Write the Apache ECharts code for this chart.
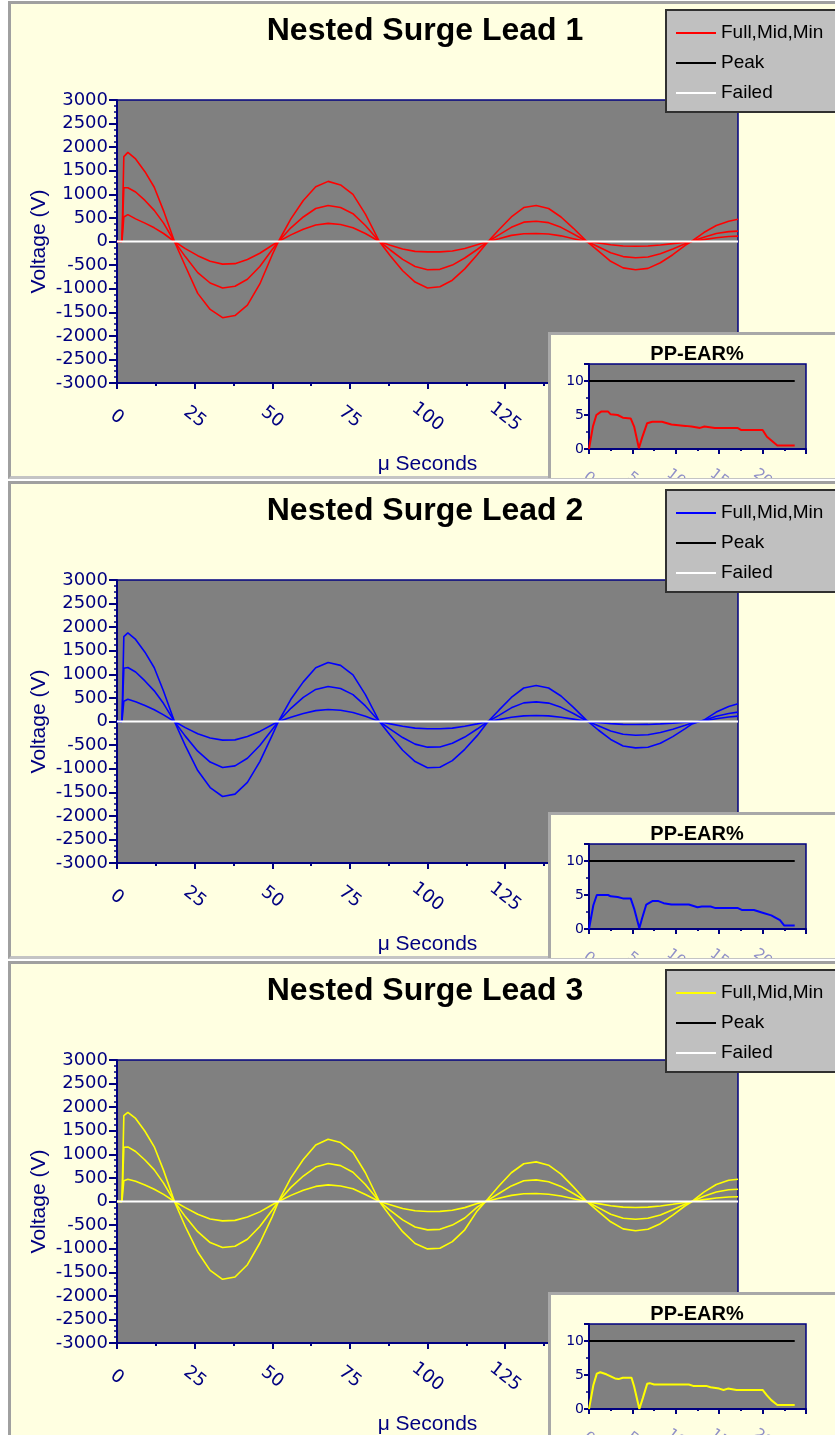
<!DOCTYPE html>
<html><head><meta charset="utf-8">
<script src="https://cdn.jsdelivr.net/npm/echarts@6/dist/echarts.min.js"></script>
<style>
html,body{margin:0;padding:0;background:#ffffff;width:835px;height:1435px;overflow:hidden;position:relative}
.frame{position:absolute;left:8px;width:840px;height:478px;box-sizing:border-box;background:#ffffe1;border-top:3px solid #a0a0a0;border-left:3px solid #a0a0a0;border-bottom:3px solid #c4c4c4}
.chart{position:absolute;left:0;width:835px;height:478px}
</style></head><body>
<div class="frame" style="top:1px"></div>
<div class="frame" style="top:481px"></div>
<div class="frame" style="top:961px"></div>
<div class="chart" id="c0" style="top:0px"></div>
<div class="chart" id="c1" style="top:480px"></div>
<div class="chart" id="c2" style="top:960px"></div>
<script>
// ---- data ----
const TIME_US = [0, 1.6, 2.2, 3.5, 6, 9, 12, 15, 18.5,
  22, 26, 30, 34, 38, 42, 46, 50, 52,
  56, 60, 64, 68, 72, 76, 80, 84.5,
  88, 92, 96, 100, 104, 108, 112, 116, 119.5,
  123, 127, 131, 135, 139, 143, 147, 151,
  155, 159, 163, 167, 171, 175, 179, 183, 185,
  189, 193, 197, 200];

const FULL_1 = [0, 0, 1800, 1890, 1750, 1480, 1150, 650, 0,
  -520, -1100, -1440, -1615, -1570, -1350, -900, -280, 0,
  480, 870, 1160, 1275, 1200, 1000, 580, 0,
  -300, -620, -860, -985, -960, -820, -580, -280, 0,
  250, 520, 720, 765, 700, 520, 280, 20,
  -200, -420, -560, -600, -570, -450, -280, -80, 0,
  190, 340, 430, 470];
const MID_1 = [0, 0, 1140, 1140, 1050, 870, 660, 390, 0,
  -320, -660, -880, -985, -950, -800, -530, -170, 0,
  290, 520, 700, 765, 720, 590, 340, 0,
  -180, -380, -530, -600, -590, -500, -350, -170, 0,
  140, 300, 410, 430, 400, 300, 160, 10,
  -110, -240, -320, -345, -330, -260, -160, -50, 0,
  90, 170, 210, 220];
const MIN_1 = [0, 0, 520, 570, 480, 390, 290, 170, 0,
  -150, -300, -420, -480, -470, -380, -250, -80, 0,
  140, 260, 350, 385, 360, 290, 170, 0,
  -80, -160, -210, -220, -220, -200, -150, -70, 0,
  60, 130, 165, 170, 160, 120, 60, 0,
  -30, -70, -95, -100, -95, -75, -45, -15, 0,
  40, 80, 105, 113];

const FULL_2 = [0, 0, 1800, 1880, 1740, 1470, 1140, 640, 0,
  -510, -1040, -1400, -1590, -1540, -1290, -850, -290, 0,
  470, 840, 1140, 1250, 1190, 990, 570, 0,
  -290, -610, -850, -980, -970, -830, -590, -300, 0,
  240, 510, 710, 765, 710, 540, 300, 40,
  -180, -380, -520, -560, -545, -460, -320, -150, -60,
  30, 200, 320, 375];
const MID_2 = [0, 0, 1130, 1145, 1050, 860, 650, 380, 0,
  -310, -630, -860, -975, -940, -780, -510, -170, 0,
  280, 510, 680, 742, 700, 570, 330, 0,
  -160, -340, -480, -544, -540, -460, -330, -160, 0,
  130, 290, 395, 417, 390, 300, 170, 20,
  -90, -200, -270, -290, -280, -235, -165, -80, -35,
  20, 110, 170, 198];
const MIN_2 = [0, 0, 430, 470, 420, 340, 250, 140, 0,
  -130, -260, -350, -395, -390, -320, -210, -70, 0,
  90, 170, 230, 254, 240, 190, 110, 0,
  -50, -100, -140, -155, -155, -140, -100, -50, 0,
  40, 90, 120, 127, 120, 90, 50, 5,
  -20, -45, -60, -64, -62, -50, -35, -15, -5,
  10, 60, 95, 113];

const FULL_3 = [0, 0, 1820, 1890, 1760, 1490, 1160, 660, 0,
  -530, -1070, -1460, -1650, -1600, -1340, -880, -320, 0,
  500, 890, 1200, 1320, 1250, 1040, 610, 0,
  -310, -640, -890, -1005, -990, -850, -600, -200, 60,
  330, 610, 800, 840, 770, 580, 310, 20,
  -210, -430, -580, -620, -590, -470, -290, -90, -10,
  200, 360, 450, 473];
const MID_3 = [0, 0, 1150, 1157, 1060, 880, 670, 390, 0,
  -320, -640, -870, -975, -950, -800, -530, -180, 0,
  300, 540, 730, 806, 760, 620, 360, 0,
  -190, -390, -540, -602, -590, -500, -350, -120, 30,
  170, 330, 440, 459, 420, 320, 170, 10,
  -130, -270, -355, -375, -355, -285, -175, -55, -5,
  110, 200, 250, 261];
const MIN_3 = [0, 0, 440, 473, 430, 350, 260, 150, 0,
  -130, -270, -370, -411, -400, -330, -220, -70, 0,
  130, 240, 320, 353, 330, 270, 150, 0,
  -70, -150, -195, -212, -210, -185, -130, -40, 10,
  70, 130, 165, 169, 155, 115, 60, 0,
  -45, -90, -120, -127, -120, -95, -60, -20, 0,
  40, 75, 95, 100];

// PP-EAR% inset traces: [x, percent]
const EAR_1 = [[0,0],[0.45,3.3],[0.85,5.0],[1.4,5.5],[2.2,5.5],[2.5,5.1],[3.3,5.0],[3.9,4.6],[4.8,4.5],[5.2,3.3],
  [5.75,0.1],[6.1,1.6],[6.7,3.8],[7.3,4.0],[8.4,4.0],[9.5,3.6],[11.1,3.4],[11.8,3.3],[12.8,3.1],[13.3,3.3],
  [14.5,3.1],[17.1,3.1],[17.5,2.8],[20,2.8],[20.5,1.8],[21.7,0.5],[23.7,0.5]];
const EAR_2 = [[0,0],[0.5,3.5],[0.9,5.0],[2.2,5.0],[2.5,4.8],[3.3,4.7],[3.9,4.5],[4.8,4.5],[5.2,3.0],[5.8,0.1],
  [6.1,1.5],[6.6,3.6],[7.3,4.1],[8.0,4.1],[8.6,3.8],[9.5,3.6],[11.5,3.6],[12.5,3.2],[13.0,3.3],[14.0,3.3],
  [14.5,3.1],[17.1,3.1],[17.6,2.8],[19.0,2.8],[20.0,2.4],[21.0,2.0],[22.0,1.3],[22.5,0.5],[23.7,0.5]];
const EAR_3 = [[0,0],[0.5,3.5],[0.9,5.2],[1.3,5.4],[2.0,5.1],[3.0,4.5],[3.4,4.4],[3.9,4.6],[4.9,4.6],[5.2,3.3],
  [5.8,0.0],[6.2,1.6],[6.7,3.7],[7.0,3.8],[7.5,3.6],[11.5,3.6],[12.0,3.4],[13.5,3.4],[14.0,3.2],[15.0,3.0],
  [15.5,2.8],[16.0,3.0],[17.0,2.8],[20.0,2.8],[20.5,2.0],[21.0,1.3],[21.7,0.6],[23.7,0.6]];
const PEAK_LINE = [[0,10],[23.7,10]];
const FAILED_LINE = [[0,0],[200,0]];

const TITLES = ['Nested Surge Lead 1', 'Nested Surge Lead 2', 'Nested Surge Lead 3'];
const LEGEND_NAMES = ['Full,Mid,Min', 'Peak', 'Failed'];
const COLORS = ['#ff0000', '#0000ff', '#ffff00'];
const SURGES = [[FULL_1, MID_1, MIN_1], [FULL_2, MID_2, MIN_2], [FULL_3, MID_3, MIN_3]];
const EARS = [EAR_1, EAR_2, EAR_3];
const EAR_X_TICKS = [0, 5, 10, 15, 20];
const EAR_Y_TICKS = [0, 5, 10];

// ---- styling ----
const NAVY = '#000080';
const CREAM = '#ffffe1';
const PLOT = '#808080';

function buildOption(k) {
  const color = COLORS[k];
  const pts = arr => TIME_US.map((t, i) => [t, arr[i]]);
  const surgeSeries = SURGES[k].map(arr => ({
    name: LEGEND_NAMES[0], type: 'line', xAxisIndex: 0, yAxisIndex: 0,
    data: pts(arr), symbol: 'none', showSymbol: false, smooth: false,
    lineStyle: {color: color, width: 1.6}, itemStyle: {color: color}, animation: false
  }));
  return {
    animation: false,
    title: [
      {text: TITLES[k], left: 420, top: 10, textAlign: 'center',
       textStyle: {fontFamily: 'Liberation Sans', fontWeight: 'bold', fontSize: 32, color: '#000'}},
      {text: 'PP-EAR%', left: 692, top: 339, textAlign: 'center', zlevel: 1, z: 6,
       textStyle: {fontFamily: 'Liberation Sans', fontWeight: 'bold', fontSize: 20, color: '#000'}}
    ],
    legend: {
      data: LEGEND_NAMES, orient: 'vertical', left: 666, top: 10,
      padding: [13, 30, 9, 10], itemGap: 10, itemWidth: 40, itemHeight: 2, icon: 'rect',
      backgroundColor: '#c0c0c0', borderColor: '#303030', borderWidth: 2, borderRadius: 0,
      selectedMode: false,
      textStyle: {fontFamily: 'Liberation Sans', fontSize: 19, color: '#000', lineHeight: 20}
    },
    graphic: {elements: [{
      type: 'rect', zlevel: 1, z: -10, silent: true,
      shape: {x: 549.5, y: 333.5, width: 320, height: 200},
      style: {fill: CREAM, stroke: '#a8a8a8', lineWidth: 3}
    }]},
    grid: [
      {left: 117, top: 100, width: 621, height: 283, show: true, backgroundColor: PLOT,
       borderColor: NAVY, borderWidth: 1.5, containLabel: false, outerBoundsMode: 'none'},
      {left: 589, top: 364, width: 217, height: 85, show: true, backgroundColor: PLOT,
       borderColor: NAVY, borderWidth: 1.5, containLabel: false, outerBoundsMode: 'none', zlevel: 1, z: 0}
    ],
    xAxis: [
      {gridIndex: 0, type: 'value', min: 0, max: 200, interval: 25,
       name: 'μ Seconds', nameLocation: 'middle', nameGap: 71, nameMoveOverlap: false,
       nameTextStyle: {fontFamily: 'Liberation Sans', fontSize: 21, color: NAVY},
       axisLine: {show: true, onZero: false, lineStyle: {color: NAVY, width: 2}},
       axisTick: {show: true, length: 6, lineStyle: {color: NAVY, width: 2}},
       minorTick: {show: true, splitNumber: 2, length: 3, lineStyle: {color: NAVY, width: 2}},
       splitLine: {show: false},
       axisLabel: {rotate: -38, align: 'center', verticalAlign: 'middle', margin: 34,
                   fontFamily: 'DejaVu Sans', fontSize: 18, color: NAVY, hideOverlap: false,
                   formatter: v => String(v)}},
      {gridIndex: 1, type: 'value', min: 0, max: 25, interval: 5, zlevel: 1,
       axisLine: {show: true, onZero: false, lineStyle: {color: NAVY, width: 2}},
       axisTick: {show: true, length: 5, lineStyle: {color: NAVY, width: 2}},
       minorTick: {show: true, splitNumber: 2, length: 2, lineStyle: {color: NAVY, width: 2}},
       splitLine: {show: false},
       axisLabel: {rotate: -38, align: 'center', verticalAlign: 'middle', margin: 29,
                   fontFamily: 'DejaVu Sans', fontSize: 15, color: '#9090c8',
                   formatter: v => (EAR_X_TICKS.indexOf(v) >= 0 ? String(v) : '')}}
    ],
    yAxis: [
      {gridIndex: 0, type: 'value', min: -3000, max: 3000, interval: 500,
       name: 'Voltage (V)', nameLocation: 'middle', nameGap: 67, nameRotate: 90, nameMoveOverlap: false,
       nameTextStyle: {fontFamily: 'Liberation Sans', fontSize: 21, color: NAVY},
       axisLine: {show: true, onZero: false, lineStyle: {color: NAVY, width: 2}},
       axisTick: {show: true, length: 8, lineStyle: {color: NAVY, width: 2}},
       minorTick: {show: true, splitNumber: 4, length: 3, lineStyle: {color: NAVY, width: 1.5}},
       splitLine: {show: false},
       axisLabel: {margin: 9, fontFamily: 'DejaVu Sans', fontSize: 18, color: NAVY,
                   formatter: v => String(v)}},
      {gridIndex: 1, type: 'value', min: 0, max: 12.5, interval: 5, zlevel: 1,
       axisLine: {show: true, onZero: false, lineStyle: {color: NAVY, width: 2}},
       axisTick: {show: true, length: 5, lineStyle: {color: NAVY, width: 2}},
       minorTick: {show: true, splitNumber: 2, length: 3, lineStyle: {color: NAVY, width: 1.5}},
       splitLine: {show: false},
       axisLabel: {margin: 5, fontFamily: 'DejaVu Sans', fontSize: 14, color: NAVY,
                   formatter: v => (EAR_Y_TICKS.indexOf(v) >= 0 ? String(v) : '')}}
    ],
    series: surgeSeries.concat([
      {name: LEGEND_NAMES[2], type: 'line', xAxisIndex: 0, yAxisIndex: 0, data: FAILED_LINE,
       symbol: 'none', lineStyle: {color: '#ffffff', width: 2}, itemStyle: {color: '#ffffff'}},
      {name: 'PP-EAR%', type: 'line', xAxisIndex: 1, yAxisIndex: 1, data: EARS[k], zlevel: 1,
       symbol: 'none', lineStyle: {color: color, width: 2}, itemStyle: {color: color}},
      {name: LEGEND_NAMES[1], type: 'line', xAxisIndex: 1, yAxisIndex: 1, data: PEAK_LINE, zlevel: 1,
       symbol: 'none', lineStyle: {color: '#000000', width: 2}, itemStyle: {color: '#000000'}}
    ])
  };
}

[0, 1, 2].forEach(k => {
  const chart = echarts.init(document.getElementById('c' + k), null, {renderer: 'canvas'});
  chart.setOption(buildOption(k));
});
</script>
</body></html>
